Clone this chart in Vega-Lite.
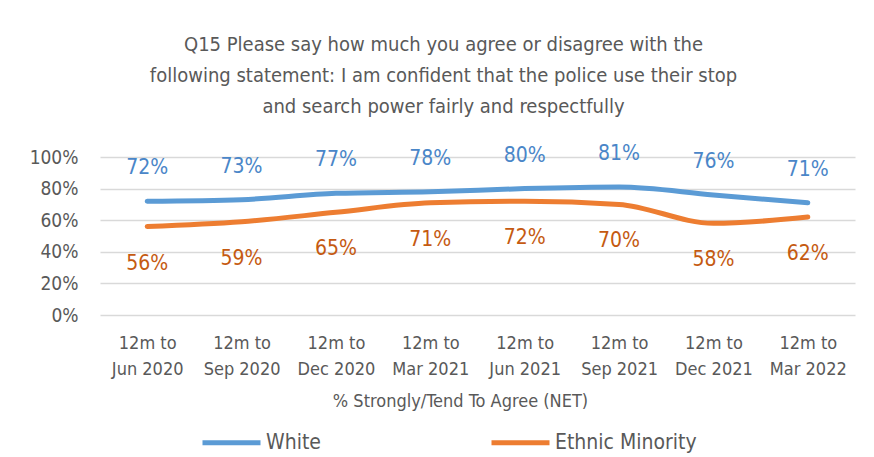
{
  "$schema": "https://vega.github.io/schema/vega-lite/v6.json",
  "width": 755,
  "height": 158,
  "autosize": {"type": "none"},
  "padding": {"left": 100, "top": 157, "right": 19, "bottom": 142},
  "background": "white",
  "config": {
    "font": "DejaVu Sans Condensed, Liberation Sans, sans-serif",
    "view": {"stroke": null}
  },
  "title": {
    "text": ["Q15 Please say how much you agree or disagree with the", "following statement: I am confident that the police use their stop", "and search power fairly and respectfully"],
    "fontSize": 20,
    "fontWeight": "normal",
    "color": "#595959",
    "lineHeight": 31,
    "anchor": "middle",
    "dx": -34,
    "offset": 26
  },
  "data": {
    "values": [
      {"period": "12m to\nJun 2020", "order": 1, "series": "White", "value": 0.72},
      {"period": "12m to\nSep 2020", "order": 2, "series": "White", "value": 0.73},
      {"period": "12m to\nDec 2020", "order": 3, "series": "White", "value": 0.77},
      {"period": "12m to\nMar 2021", "order": 4, "series": "White", "value": 0.78},
      {"period": "12m to\nJun 2021", "order": 5, "series": "White", "value": 0.80},
      {"period": "12m to\nSep 2021", "order": 6, "series": "White", "value": 0.81},
      {"period": "12m to\nDec 2021", "order": 7, "series": "White", "value": 0.76},
      {"period": "12m to\nMar 2022", "order": 8, "series": "White", "value": 0.71},
      {"period": "12m to\nJun 2020", "order": 1, "series": "Ethnic Minority", "value": 0.56},
      {"period": "12m to\nSep 2020", "order": 2, "series": "Ethnic Minority", "value": 0.59},
      {"period": "12m to\nDec 2020", "order": 3, "series": "Ethnic Minority", "value": 0.65},
      {"period": "12m to\nMar 2021", "order": 4, "series": "Ethnic Minority", "value": 0.71},
      {"period": "12m to\nJun 2021", "order": 5, "series": "Ethnic Minority", "value": 0.72},
      {"period": "12m to\nSep 2021", "order": 6, "series": "Ethnic Minority", "value": 0.70},
      {"period": "12m to\nDec 2021", "order": 7, "series": "Ethnic Minority", "value": 0.58},
      {"period": "12m to\nMar 2022", "order": 8, "series": "Ethnic Minority", "value": 0.62}
    ]
  },
  "encoding": {
    "x": {
      "field": "period",
      "type": "ordinal",
      "sort": {"field": "order"},
      "scale": {"type": "point", "padding": 0.5},
      "axis": {
        "title": "% Strongly/Tend To Agree (NET)",
        "titleFontSize": 18,
        "titleFontWeight": "normal",
        "titleColor": "#595959",
        "titlePadding": 14,
        "titleX": 360,
        "labelExpr": "split(datum.label, '\\n')",
        "labelAngle": 0,
        "labelFontSize": 18,
        "labelLineHeight": 26,
        "labelColor": "#595959",
        "labelPadding": 19,
        "domain": false,
        "ticks": false,
        "grid": false
      }
    },
    "y": {
      "field": "value",
      "type": "quantitative",
      "scale": {"domain": [0, 1]},
      "axis": {
        "title": null,
        "format": ".0%",
        "values": [0, 0.2, 0.4, 0.6, 0.8, 1],
        "labelFontSize": 19,
        "labelColor": "#595959",
        "labelPadding": 22,
        "domain": false,
        "ticks": false,
        "gridColor": "#d9d9d9",
        "gridWidth": 1.5
      }
    },
    "color": {
      "field": "series",
      "type": "nominal",
      "scale": {"domain": ["White", "Ethnic Minority"], "range": ["#5B9BD5", "#ED7D31"]},
      "legend": {
        "title": null,
        "orient": "none",
        "legendX": 100,
        "legendY": 254,
        "direction": "horizontal",
        "symbolType": "stroke",
        "symbolSize": 3364,
        "symbolStrokeWidth": 5,
        "labelFontSize": 21,
        "labelColor": "#595959",
        "labelOffset": 3,
        "columnPadding": 160,
        "gridAlign": "each"
      }
    }
  },
  "layer": [
    {
      "mark": {"type": "line", "strokeWidth": 5, "interpolate": "monotone", "strokeCap": "round"}
    },
    {
      "transform": [{"filter": "datum.series === 'White'"}],
      "mark": {"type": "text", "dy": -33, "fontSize": 21},
      "encoding": {
        "text": {"field": "value", "type": "quantitative", "format": ".0%"},
        "color": {"value": "#4A86C8"}
      }
    },
    {
      "transform": [{"filter": "datum.series === 'Ethnic Minority'"}],
      "mark": {"type": "text", "dy": 37, "fontSize": 21},
      "encoding": {
        "text": {"field": "value", "type": "quantitative", "format": ".0%"},
        "color": {"value": "#C55A11"}
      }
    }
  ]
}
